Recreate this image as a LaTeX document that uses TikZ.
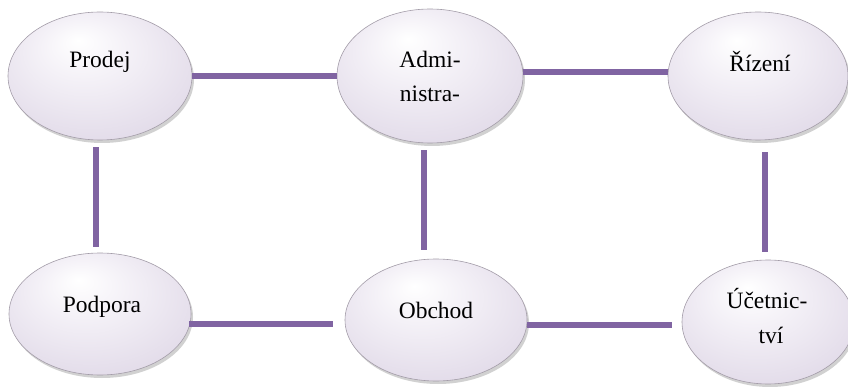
\documentclass[tikz,border=0pt]{standalone}
\usepackage{fontspec}
\setmainfont{Liberation Serif}
\usetikzlibrary{shapes.geometric,shadows}
\definecolor{linkpurple}{HTML}{8064A2}
\definecolor{lavA}{HTML}{F4F1F7}
\definecolor{lavB}{HTML}{E2DBE9}
\definecolor{lavC}{HTML}{CFC7D8}
\definecolor{lavD}{HTML}{ADA5B4}
\definecolor{rimgray}{HTML}{A39CA8}
\pgfdeclareradialshading{orb}{\pgfpoint{-6bp}{14bp}}{%
  color(0bp)=(white); color(12bp)=(lavA); color(32bp)=(lavB); color(44bp)=(lavC); color(50bp)=(lavD)}
\begin{document}
\begin{tikzpicture}[x=1pt,y=-1pt,
  orbnode/.style={ellipse, draw=rimgray, line width=0.6pt, shading=orb, inner sep=0pt,
    drop shadow={shadow xshift=2pt, shadow yshift=-3pt, fill=black, opacity=0.18}},
  lbl/.style={anchor=base, inner sep=0pt, font=\fontsize{23.5}{30}\selectfont},
  link/.style={draw=linkpurple, line width=6pt, line cap=butt}]
\useasboundingbox (0,0) rectangle (848,387);
% ellipses
\node[orbnode, minimum width=184pt, minimum height=128pt] (prodej) at (100,76) {};
\node[orbnode, minimum width=186pt, minimum height=134pt] (admin) at (430,76) {};
\node[orbnode, minimum width=180pt, minimum height=128pt] (rizeni) at (758,76) {};
\node[orbnode, minimum width=182pt, minimum height=122pt] (podpora) at (100,314) {};
\node[orbnode, minimum width=182pt, minimum height=122pt] (obchod) at (436,320) {};
\node[orbnode, minimum width=172pt, minimum height=124pt] (ucet) at (768,322) {};
% labels
\node[lbl] (tprodej) at (100,68) {Prodej};
\node[lbl] (tadmin1) at (430,68) {Admi-};
\node[lbl] (tadmin2) at (430,102) {nistra-};
\node[lbl] (trizeni) at (760,72) {Řízení};
\node[lbl] (tpodpora) at (102,312) {Podpora};
\node[lbl] (tobchod) at (436,318) {Obchod};
\node[lbl] (tucet1) at (767,308) {Účetnic-};
\node[lbl] (tucet2) at (771,343) {tví};
% connectors
\draw[link] (prodej.east) -- (prodej.east -| admin.west);
\draw[link] ([yshift=4pt]admin.east) -- ([yshift=4pt]admin.east -| rizeni.west);
\draw[link, shorten <=7pt, shorten >=6pt] ([xshift=-4pt]prodej.south) -- ([xshift=-4pt]prodej.south |- podpora.north);
\draw[link, shorten <=7pt, shorten >=9pt] ([xshift=-6pt]admin.south) -- ([xshift=-6pt]admin.south |- obchod.north);
\draw[link, shorten <=12pt, shorten >=8pt] ([xshift=7pt]rizeni.south) -- ([xshift=7pt]rizeni.south |- ucet.north);
\draw[link, shorten <=-2pt, shorten >=12pt] ([yshift=-10pt]podpora.east) -- ([yshift=-10pt]podpora.east -| obchod.west);
\draw[link, shorten >=10pt] ([yshift=-5pt]obchod.east) -- ([yshift=-5pt]obchod.east -| ucet.west);
\end{tikzpicture}
\end{document}
